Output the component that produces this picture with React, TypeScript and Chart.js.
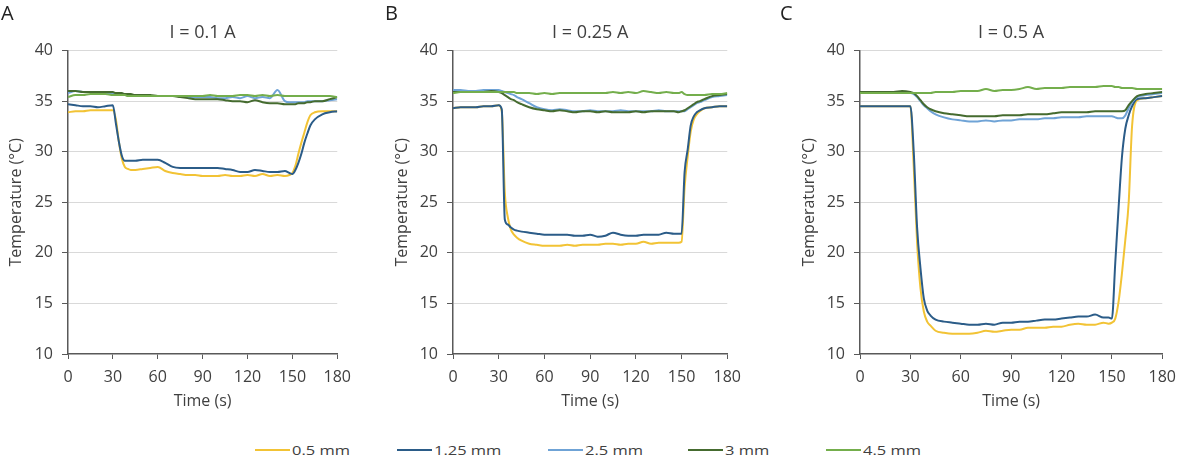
import React, { useEffect, useRef } from 'react';
import { Chart, registerables } from 'chart.js';

Chart.register(...registerables);

const FONT = "'Open Sans', 'Noto Sans', sans-serif";

// Time grid (s) shared by every series
const TIME = [0, 5, 10, 15, 20, 25, 30, 32, 34, 36, 38, 40, 42, 45, 50, 55, 60, 65, 70, 75, 80, 85, 90, 95, 100, 105, 110, 115, 120, 125, 130, 135, 140, 145, 148, 150, 152, 154, 156, 158, 160, 162, 165, 170, 175, 180];

const SERIES_NAMES = ['0.5 mm', '1.25 mm', '2.5 mm', '3 mm', '4.5 mm'];
const SERIES_COLORS = ['#F2C335', '#2B5C88', '#6FA3D6', '#456B2F', '#74AE4C'];

const PANEL_TITLES = ['I = 0.1 A', 'I = 0.25 A', 'I = 0.5 A'];
const PANEL_LETTERS = ['A', 'B', 'C'];
const X_AXIS_TITLE = 'Time (s)';
const Y_AXIS_TITLE = 'Temperature (°C)';

// Panel A : I = 0.1 A
const A_05 = [33.9, 34.0, 34.0, 34.1, 34.1, 34.1, 34.1, 33.2, 31.0, 29.3, 28.5, 28.3, 28.2, 28.2, 28.3, 28.4, 28.5, 28.1, 27.9, 27.8, 27.7, 27.7, 27.6, 27.6, 27.6, 27.7, 27.6, 27.6, 27.7, 27.6, 27.8, 27.6, 27.7, 27.6, 27.7, 27.9, 28.6, 29.8, 30.9, 31.9, 32.9, 33.6, 33.9, 34.0, 34.0, 34.0];
const A_125 = [34.7, 34.6, 34.5, 34.5, 34.4, 34.5, 34.6, 32.8, 31.0, 29.6, 29.1, 29.1, 29.1, 29.1, 29.2, 29.2, 29.2, 28.9, 28.5, 28.4, 28.4, 28.4, 28.4, 28.4, 28.4, 28.3, 28.2, 28.0, 28.0, 28.2, 28.1, 28.0, 28.0, 28.1, 27.9, 27.8, 28.2, 28.9, 29.8, 30.9, 31.8, 32.6, 33.2, 33.7, 33.9, 34.0];
const A_25 = [35.8, 36.0, 35.9, 35.9, 35.8, 35.8, 35.7, 35.7, 35.7, 35.6, 35.6, 35.6, 35.6, 35.5, 35.5, 35.5, 35.5, 35.5, 35.5, 35.5, 35.4, 35.4, 35.4, 35.4, 35.3, 35.3, 35.4, 35.3, 35.5, 35.3, 35.4, 35.3, 36.1, 35.0, 34.9, 34.9, 34.9, 34.9, 34.9, 34.9, 35.0, 35.0, 35.0, 35.0, 35.1, 35.2];
const A_3 = [36.0, 36.0, 35.9, 35.9, 35.9, 35.9, 35.9, 35.8, 35.8, 35.8, 35.7, 35.7, 35.7, 35.6, 35.6, 35.6, 35.5, 35.5, 35.5, 35.4, 35.3, 35.2, 35.2, 35.2, 35.2, 35.1, 35.0, 35.0, 34.9, 35.1, 34.9, 34.8, 34.8, 34.7, 34.7, 34.7, 34.7, 34.8, 34.8, 34.8, 34.9, 34.9, 35.0, 35.0, 35.2, 35.4];
const A_45 = [35.4, 35.6, 35.6, 35.7, 35.7, 35.7, 35.6, 35.6, 35.6, 35.6, 35.6, 35.5, 35.5, 35.5, 35.5, 35.5, 35.5, 35.5, 35.5, 35.5, 35.5, 35.5, 35.5, 35.6, 35.5, 35.5, 35.5, 35.6, 35.6, 35.5, 35.6, 35.5, 35.6, 35.5, 35.5, 35.5, 35.5, 35.5, 35.5, 35.5, 35.5, 35.5, 35.5, 35.5, 35.5, 35.4];

// Panel B : I = 0.25 A
const B_05 = [34.3, 34.4, 34.4, 34.4, 34.5, 34.5, 34.6, 34.0, 26.0, 23.5, 22.3, 21.8, 21.5, 21.2, 20.9, 20.8, 20.7, 20.7, 20.7, 20.8, 20.7, 20.8, 20.8, 20.8, 20.9, 20.9, 20.8, 20.9, 20.9, 21.1, 20.9, 21.0, 21.0, 21.0, 21.0, 21.1, 26.5, 29.5, 32.0, 33.2, 33.7, 34.0, 34.3, 34.4, 34.5, 34.5];
const B_125 = [34.3, 34.4, 34.4, 34.4, 34.5, 34.5, 34.6, 34.2, 23.3, 22.8, 22.5, 22.3, 22.2, 22.1, 22.0, 21.9, 21.8, 21.8, 21.8, 21.8, 21.7, 21.7, 21.8, 21.6, 21.7, 22.0, 21.8, 21.7, 21.7, 21.8, 21.8, 21.8, 22.0, 21.9, 21.9, 21.9, 28.0, 30.2, 32.6, 33.5, 33.9, 34.1, 34.3, 34.4, 34.5, 34.5];
const B_25 = [36.1, 36.1, 36.0, 36.0, 36.1, 36.1, 36.1, 36.0, 35.9, 35.8, 35.7, 35.6, 35.4, 35.2, 34.8, 34.4, 34.2, 34.1, 34.2, 34.1, 34.0, 34.0, 34.1, 34.0, 34.0, 34.0, 34.1, 34.0, 34.0, 34.0, 34.0, 34.1, 34.0, 34.0, 34.0, 34.0, 34.0, 34.2, 34.4, 34.6, 34.8, 34.9, 35.1, 35.4, 35.5, 35.6];
const B_3 = [35.9, 35.9, 35.9, 35.9, 35.9, 36.0, 35.9, 35.8, 35.6, 35.4, 35.2, 35.1, 34.9, 34.7, 34.4, 34.2, 34.1, 34.0, 34.1, 34.0, 33.9, 34.0, 34.0, 33.9, 34.0, 33.9, 33.9, 33.9, 34.0, 33.9, 34.0, 34.0, 34.0, 34.0, 33.9, 34.0, 34.1, 34.3, 34.5, 34.7, 34.9, 35.0, 35.2, 35.5, 35.6, 35.7];
const B_45 = [35.8, 35.9, 35.9, 35.9, 35.9, 35.9, 35.9, 35.9, 35.9, 35.9, 35.9, 35.9, 35.8, 35.8, 35.8, 35.7, 35.8, 35.7, 35.8, 35.8, 35.8, 35.8, 35.8, 35.8, 35.8, 35.9, 35.8, 35.9, 35.8, 36.0, 35.9, 35.8, 35.9, 35.8, 35.8, 35.9, 35.7, 35.6, 35.6, 35.6, 35.6, 35.6, 35.6, 35.7, 35.7, 35.8];

// Panel C : I = 0.5 A
const C_05 = [34.5, 34.5, 34.5, 34.5, 34.5, 34.5, 34.5, 28.5, 21.0, 16.5, 14.2, 13.2, 12.8, 12.3, 12.1, 12.0, 12.0, 12.0, 12.1, 12.3, 12.2, 12.3, 12.4, 12.4, 12.6, 12.6, 12.6, 12.7, 12.7, 12.9, 13.0, 12.9, 12.9, 13.1, 13.0, 13.1, 13.5, 15.2, 18.0, 21.3, 25.0, 32.5, 35.1, 35.3, 35.4, 35.5];
const C_125 = [34.5, 34.5, 34.5, 34.5, 34.5, 34.5, 34.5, 30.0, 22.5, 18.5, 15.5, 14.3, 13.8, 13.4, 13.2, 13.1, 13.0, 12.9, 12.9, 13.0, 12.9, 13.1, 13.1, 13.2, 13.2, 13.3, 13.4, 13.4, 13.5, 13.6, 13.7, 13.7, 13.9, 13.6, 13.6, 13.5, 19.0, 24.5, 29.5, 32.3, 33.6, 34.5, 35.2, 35.3, 35.4, 35.5];
const C_25 = [35.8, 35.8, 35.8, 35.8, 35.8, 35.8, 35.8, 35.7, 35.4, 35.0, 34.6, 34.3, 34.0, 33.7, 33.4, 33.2, 33.1, 33.0, 33.0, 33.1, 33.0, 33.1, 33.1, 33.2, 33.2, 33.2, 33.3, 33.3, 33.4, 33.4, 33.4, 33.5, 33.5, 33.5, 33.5, 33.5, 33.4, 33.3, 33.3, 33.6, 34.3, 34.9, 35.4, 35.6, 35.7, 35.8];
const C_3 = [35.9, 35.9, 35.9, 35.9, 35.9, 36.0, 35.9, 35.8, 35.5, 35.1, 34.7, 34.4, 34.2, 34.0, 33.8, 33.7, 33.6, 33.5, 33.5, 33.5, 33.5, 33.6, 33.6, 33.6, 33.7, 33.7, 33.7, 33.8, 33.9, 33.9, 33.9, 33.9, 34.0, 34.0, 34.0, 34.0, 34.0, 34.0, 34.0, 34.1, 34.6, 35.0, 35.5, 35.7, 35.8, 35.9];
const C_45 = [35.8, 35.8, 35.8, 35.8, 35.8, 35.8, 35.8, 35.8, 35.8, 35.8, 35.8, 35.8, 35.8, 35.9, 35.9, 35.9, 36.0, 36.0, 36.0, 36.2, 36.0, 36.1, 36.1, 36.2, 36.4, 36.2, 36.3, 36.3, 36.3, 36.4, 36.4, 36.4, 36.4, 36.5, 36.5, 36.5, 36.4, 36.4, 36.3, 36.3, 36.3, 36.3, 36.2, 36.2, 36.2, 36.2];

const PANEL_SERIES = [
  [A_05, A_125, A_25, A_3, A_45],
  [B_05, B_125, B_25, B_3, B_45],
  [C_05, C_125, C_25, C_3, C_45],
];

const CANVAS_H = 430;
const X_SCALE_H = 76;

// layout of the three panels (canvas left, canvas width, plot left, plot right)
const PANEL_LAYOUT = [
  { left: 0, width: 360, plotLeft: 68, plotRight: 342, letterX: 1 },
  { left: 386, width: 364, plotLeft: 453, plotRight: 732, letterX: 385 },
  { left: 793, width: 392, plotLeft: 860, plotRight: 1171, letterX: 780 },
];

const LEGEND_X = [255, 397, 548, 688, 826];

function Panel({ idx }: { idx: number }) {
  const ref = useRef<HTMLCanvasElement>(null);
  const lay = PANEL_LAYOUT[idx];
  useEffect(() => {
    const series = PANEL_SERIES[idx];
    const chart = new Chart(ref.current as HTMLCanvasElement, {
      type: 'line',
      data: {
        datasets: series.map((vals, i) => ({
          label: SERIES_NAMES[i],
          data: TIME.map((t, k) => ({ x: t, y: vals[k] })),
          borderColor: SERIES_COLORS[i],
          backgroundColor: SERIES_COLORS[i],
          borderWidth: 2,
          pointRadius: 0,
          cubicInterpolationMode: 'monotone',
          order: 5 - i,
        })),
      },
      options: {
        responsive: false,
        animation: false,
        devicePixelRatio: 1,
        layout: {
          padding: { left: 0, right: lay.width - (lay.plotRight - lay.left), top: 22, bottom: 0 },
        },
        plugins: {
          legend: { display: false },
          tooltip: { enabled: false },
          title: {
            display: true,
            text: PANEL_TITLES[idx],
            fullSize: false,
            color: '#404040',
            font: { family: FONT, size: 18, weight: 'normal' },
            padding: { top: 0, bottom: 7 },
          },
        },
        scales: {
          x: {
            type: 'linear',
            min: 0,
            max: 180,
            afterFit: (s: any) => { s.height = X_SCALE_H; },
            ticks: { stepSize: 30, color: '#404040', font: { family: FONT, size: 16 }, padding: 9, maxRotation: 0 },
            grid: { drawOnChartArea: false, drawTicks: true, tickLength: 5, color: '#595959', lineWidth: 1 },
            border: { color: '#595959', width: 1.5 },
            title: {
              display: true,
              text: X_AXIS_TITLE,
              color: '#404040',
              font: { family: FONT, size: 16 },
              padding: { top: 0, bottom: 19 },
            },
          },
          y: {
            type: 'linear',
            min: 10,
            max: 40,
            afterFit: (s: any) => { s.width = lay.plotLeft - lay.left; },
            ticks: { stepSize: 5, color: '#404040', font: { family: FONT, size: 16 }, padding: 9 },
            grid: {
              color: (c: any) => (c.tick && c.tick.value === 10 ? 'rgba(0,0,0,0)' : '#D9D9D9'),
              tickColor: '#595959',
              tickLength: 6,
              lineWidth: 1,
            },
            border: { color: '#595959', width: 1.5 },
            title: {
              display: true,
              text: Y_AXIS_TITLE,
              color: '#404040',
              font: { family: FONT, size: 16 },
              padding: { top: 7, bottom: 0 },
            },
          },
        },
      } as any,
    });
    return () => chart.destroy();
  }, [idx]);
  return (
    <>
      <canvas
        ref={ref}
        width={lay.width}
        height={CANVAS_H}
        style={{ position: 'absolute', left: lay.left, top: 0, width: lay.width, height: CANVAS_H, display: 'block' }}
      />
      <div
        style={{
          position: 'absolute',
          left: lay.letterX,
          top: 3,
          fontFamily: FONT,
          fontSize: 20,
          lineHeight: '20px',
          color: '#222',
        }}
      >
        {PANEL_LETTERS[idx]}
      </div>
    </>
  );
}

export default function App() {
  return (
    <div
      style={{
        position: 'absolute',
        left: 0,
        top: 0,
        width: 1185,
        height: 462,
        background: '#fff',
        overflow: 'hidden',
      }}
    >
      <Panel idx={0} />
      <Panel idx={1} />
      <Panel idx={2} />
      {SERIES_NAMES.map((name, i) => (
        <div
          key={name}
          style={{ position: 'absolute', left: LEGEND_X[i], top: 441, height: 18, display: 'flex', alignItems: 'center' }}
        >
          <div style={{ width: 35, height: 0, borderTop: `2px solid ${SERIES_COLORS[i]}` }} />
          <span
            style={{
              marginLeft: 2,
              fontFamily: FONT,
              fontSize: 13.5,
              color: '#404040',
              whiteSpace: 'nowrap',
              display: 'inline-block',
              transform: 'scaleX(1.22)',
              transformOrigin: 'left center',
            }}
          >
            {name}
          </span>
        </div>
      ))}
    </div>
  );
}
